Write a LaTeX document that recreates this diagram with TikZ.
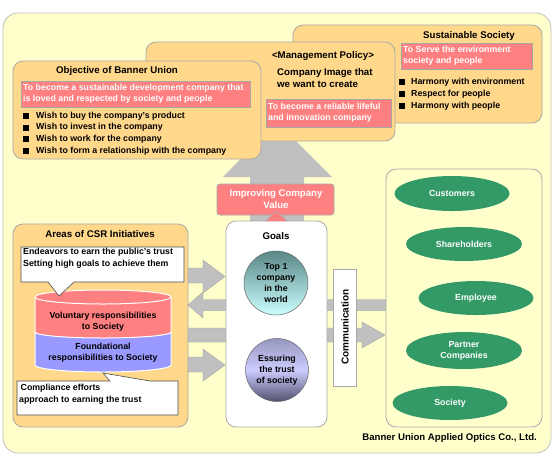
\documentclass[tikz,border=0pt]{standalone}
\usepackage{fontspec}
\setmainfont{Liberation Sans}
\usetikzlibrary{shapes.geometric}
\definecolor{bgy}{HTML}{FFFFCC}
\definecolor{orbox}{HTML}{FFD88C}
\definecolor{pinkb}{HTML}{FF8080}
\definecolor{grn}{HTML}{339966}
\definecolor{cylr}{HTML}{FF8080}
\definecolor{cylb}{HTML}{9999FF}
\definecolor{arrg}{HTML}{C0C0C0}
\definecolor{bord}{HTML}{A8A8A8}
\tikzset{
 f/.style={font=\fontsize{8.8}{11}\selectfont\bfseries},
 fb/.style={font=\fontsize{8.8}{11.5}\selectfont\bfseries},
 ft/.style={font=\fontsize{9.7}{12}\selectfont\bfseries},
 panel/.style={fill=orbox, draw=bord, rounded corners=10pt, line width=0.8pt},
 pinkrect/.style={fill=pinkb, draw=bord, line width=0.8pt},
 ptext/.style={f, text=white, align=left, anchor=west, inner sep=0pt},
 btext/.style={fb, align=left, anchor=west, inner sep=0pt},
 ctext/.style={f, align=center, inner sep=0pt},
 bul/.style={fill=black},
 garrow/.style={fill=arrg, draw=arrg!80!black, line width=0.3pt},
 stake/.style={ellipse, fill=grn, draw=none, text=white, f, align=center, inner sep=0pt},
 callout/.style={fill=white, draw=black!70, line width=0.6pt},
}
\begin{document}
\begin{tikzpicture}[x=1pt,y=-1pt]
\useasboundingbox (0,0) rectangle (555,459);
\fill[white] (0,0) rectangle (555,459);
% outer background
\draw[fill=bgy, draw=black!25, rounded corners=15pt, line width=0.8pt] (3,13) rectangle (551,453);

% Sustainable Society panel
\draw[panel] (293,25) rectangle (542,123);
\node[ft] (sstitle) at (469,36) {Sustainable Society};
\draw[pinkrect] (401,43) rectangle (532,69);
\node[ptext] (sspink) at (403,56) {To Serve the environment\\society and people};
\foreach \yy/\tt [count=\i] in {82/Harmony with environment,94/Respect for people,106/Harmony with people}{
  \fill[bul] (399,\yy-3) rectangle (405,\yy+3);
  \node[btext] (ssb\i) at (411,\yy) {\tt};
}

% big up arrow
\draw[fill=arrg, draw=none] (250,221) -- (250,177) -- (223,177) -- (277,122) -- (332,177) -- (304,177) -- (304,221) -- cycle;

% Management policy panel
\draw[panel] (146,42) rectangle (395,141);
\node[ft] (mptitle) at (323,56) {<Management Policy>};
\node[btext, ft] (mpimg) at (277,78) {Company Image that\\we want to create};
\draw[pinkrect] (266,99) rectangle (391,127);
\node[ptext] (mppink) at (268,113) {To become a reliable lifeful\\and innovation company};

% Objective panel
\draw[panel] (13,61) rectangle (261,159);
\node[ft] (objtitle) at (117,71) {Objective of Banner Union};
\draw[pinkrect] (21,81) rectangle (250,107);
\node[ptext] (objpink) at (23,94) {To become a sustainable development company that\\is loved and respected by society and people};
\foreach \yy/\tt [count=\i] in {116/Wish to buy the company's product,127.5/Wish to invest in the company,139/Wish to work for the company,151/Wish to form a relationship with the company}{
  \fill[bul] (23,\yy-3) rectangle (29,\yy+3);
  \node[btext] (objb\i) at (36,\yy) {\tt};
}

% Improving company value
\draw[fill=pinkb, draw=bord, rounded corners=3pt, line width=0.8pt] (217,184) rectangle (334,215);
\node[ctext, text=white, font=\fontsize{9.6}{12}\selectfont\bfseries] (icv) at (276,199.5) {Improving Company\\Value};

% CSR panel
\draw[panel] (13,224) rectangle (188,427);
\node[ft] (csrtitle) at (100,234) {Areas of CSR Initiatives};

% cylinder
\fill[cylr] (35,297) -- (35,332) arc[start angle=180,end angle=360,x radius=68pt,y radius=6pt] -- (171,297) arc[start angle=0,end angle=180,x radius=68pt,y radius=7pt] -- cycle;
\fill[cylb] (35,332) arc[start angle=180,end angle=360,x radius=68pt,y radius=6pt] -- (171,365) arc[start angle=0,end angle=-180,x radius=68pt,y radius=7pt] -- cycle;
\draw[white, line width=1pt] (35,297) -- (35,365) arc[start angle=180,end angle=360,x radius=68pt,y radius=7pt] -- (171,297) arc[start angle=0,end angle=180,x radius=68pt,y radius=7pt];
\draw[white, line width=1pt] (35,297) arc[start angle=180,end angle=360,x radius=68pt,y radius=7pt];
\draw[white, line width=1pt] (35,332) arc[start angle=180,end angle=360,x radius=68pt,y radius=6pt];
\node[ctext] (vol) at (103,321.5) {Voluntary responsibilities\\to Society};
\node[ctext] (fnd) at (103,352.5) {Foundational\\responsibilities to Society};

% callouts
\draw[callout] (21,247) -- (184,247) -- (184,282) -- (74,282) -- (59,296) -- (48,282) -- (21,282) -- cycle;
\node[btext] (co1) at (23,258) {Endeavors to earn the public's trust\\Setting high goals to achieve them};
\draw[callout] (17,381) -- (110,381) -- (103,373) -- (150,381) -- (178,381) -- (178,415) -- (17,415) -- cycle;
\node[btext, align=left] (co2) at (19,394) {\,Compliance efforts\\approach to earning the trust};

% arrows
\draw[garrow] (188,268) -- (203,268) -- (203,260) -- (225,276.5) -- (203,293) -- (203,283) -- (188,283) -- cycle;
\draw[garrow] (386,299.5) -- (203,299.5) -- (203,292) -- (188,305) -- (203,318) -- (203,310.5) -- (386,310.5) -- cycle;
\draw[garrow] (188,328) -- (362,328) -- (362,322) -- (385,335) -- (362,348) -- (362,342) -- (188,342) -- cycle;
\draw[garrow] (188,357) -- (203,357) -- (203,349) -- (225,365) -- (203,381) -- (203,372) -- (188,372) -- cycle;

% goals box
\draw[fill=white, draw=bord, rounded corners=10pt, line width=0.8pt] (226,221) rectangle (327,427);
\node[ft] (goals) at (276,236) {Goals};
\node[circle, minimum size=64pt, draw=black!60, line width=0.5pt, top color={rgb,255:red,90;green,135;blue,135}, bottom color={rgb,255:red,205;green,255;blue,255}, ctext] (g1) at (276,283) {Top 1\\company\\in the\\world};
\node[circle, minimum size=63pt, draw=black!60, line width=0.5pt, top color={rgb,255:red,150;green,150;blue,190}, bottom color={rgb,255:red,80;green,80;blue,110}, middle color={rgb,255:red,205;green,205;blue,255}, ctext] (g2) at (277,370) {Essuring\\the trust\\of society};
\fill[pinkb] (266,221) -- (276,211) -- (287,221) -- cycle;
\draw[bord, line width=0.6pt] (266,221) -- (276,211) -- (287,221);

% communication
\draw[fill=white, draw=bord, line width=0.8pt] (333,269) rectangle (356,386);
\node[rotate=90, font=\fontsize{10}{12}\selectfont\bfseries] (comm) at (345,327) {Communication};

% stakeholders
\draw[fill=bgy, draw=bord, rounded corners=10pt, line width=0.8pt] (386,169) rectangle (542,427);
\node[stake, minimum width=115pt, minimum height=35pt] (cust) at (452,193.5) {Customers};
\node[stake, minimum width=116pt, minimum height=34pt] (share) at (464,244) {Shareholders};
\node[stake, minimum width=115pt, minimum height=34pt] (emp) at (476,298) {Employee};
\node[stake, minimum width=116pt, minimum height=37pt] (part) at (464,350.5) {Partner\\Companies};
\node[stake, minimum width=115pt, minimum height=34pt] (soc) at (450,403) {Society};

\node[font=\fontsize{9.6}{12}\selectfont\bfseries, anchor=east, inner sep=0pt] (footer) at (537,438) {Banner Union Applied Optics Co., Ltd.};
\end{tikzpicture}
\end{document}
